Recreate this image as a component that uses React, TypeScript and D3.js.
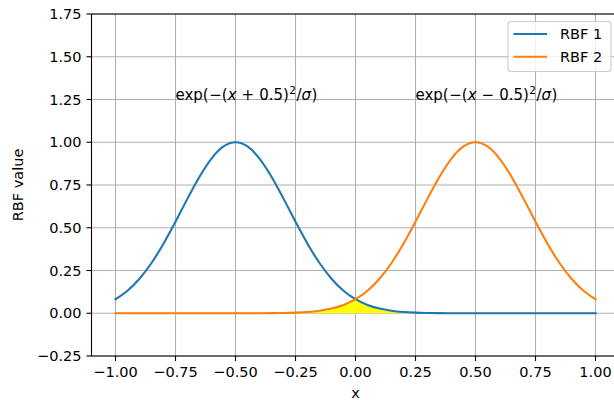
import * as d3 from 'd3';

// x samples and the two RBF curves
const xs = [
  -1.0, -0.95, -0.9, -0.85, -0.8, -0.75, -0.7, -0.65, -0.6, -0.55, -0.5,
  -0.45, -0.4, -0.35, -0.3, -0.25, -0.2, -0.15, -0.1, -0.05, 0.0,
  0.05, 0.1, 0.15, 0.2, 0.25, 0.3, 0.35, 0.4, 0.45, 0.5,
  0.55, 0.6, 0.65, 0.7, 0.75, 0.8, 0.85, 0.9, 0.95, 1.0,
];
const rbf1 = [
  0.0821, 0.132, 0.2019, 0.2938, 0.4066, 0.5353, 0.6703, 0.7985, 0.9048, 0.9753, 1.0,
  0.9753, 0.9048, 0.7985, 0.6703, 0.5353, 0.4066, 0.2938, 0.2019, 0.132, 0.0821,
  0.0486, 0.0273, 0.0146, 0.0074, 0.0036, 0.0017, 0.0007, 0.0003, 0.0001, 0.0,
  0.0, 0.0, 0.0, 0.0, 0.0, 0.0, 0.0, 0.0, 0.0, 0.0,
];
const rbf2 = [
  0.0, 0.0, 0.0, 0.0, 0.0, 0.0, 0.0, 0.0, 0.0, 0.0, 0.0,
  0.0001, 0.0003, 0.0007, 0.0017, 0.0036, 0.0074, 0.0146, 0.0273, 0.0486, 0.0821,
  0.132, 0.2019, 0.2938, 0.4066, 0.5353, 0.6703, 0.7985, 0.9048, 0.9753, 1.0,
  0.9753, 0.9048, 0.7985, 0.6703, 0.5353, 0.4066, 0.2938, 0.2019, 0.132, 0.0821,
];
const seriesNames = ['RBF 1', 'RBF 2'];
const seriesColors = ['#1f77b4', '#ff7f0e'];
const xTicks = [-1.0, -0.75, -0.5, -0.25, 0.0, 0.25, 0.5, 0.75, 1.0];
const yTicks = [-0.25, 0.0, 0.25, 0.5, 0.75, 1.0, 1.25, 1.5, 1.75];
const annotations = [
  { x: -0.75, y: 1.25, sign: '+' },
  { x: 0.25, y: 1.25, sign: '−' },
];

const W = 614;
const H = 400;
const PLOT = { left: 91.5, right: 619.5, top: 14, bottom: 356 };
const FONT = "'DejaVu Sans', sans-serif";
const FS = 14.5;
const GRID = '#b0b0b0';

const fmt = (v: number) => {
  const s = Math.abs(v).toFixed(2);
  return v < 0 ? `\u2212${s}` : s;
};

export default function App() {
  const x = d3.scaleLinear().domain([-1.1, 1.1]).range([PLOT.left, PLOT.right]);
  const y = d3.scaleLinear().domain([-0.25, 1.75]).range([PLOT.bottom, PLOT.top]);

  const overlap = xs.map((_, i) => Math.min(rbf1[i], rbf2[i]));

  const line = d3
    .line<number>()
    .x((_, i) => x(xs[i]))
    .y(d => y(d))
    .curve(d3.curveMonotoneX);

  const area = d3
    .area<number>()
    .x((_, i) => x(xs[i]))
    .y0(y(0))
    .y1(d => y(d))
    .curve(d3.curveMonotoneX);

  const tick = 5;

  return (
    <div style={{ position: 'absolute', left: 0, top: 0, width: W, height: H, overflow: 'hidden' }}>
      <svg width={W} height={H} style={{ display: 'block', background: '#fff' }} fontFamily={FONT}>
        {/* grid */}
        <g stroke={GRID} strokeWidth={1.1}>
          {xTicks.map(t => (
            <line key={`gx${t}`} x1={x(t)} x2={x(t)} y1={PLOT.top} y2={PLOT.bottom} />
          ))}
          {yTicks.map(t => (
            <line key={`gy${t}`} x1={PLOT.left} x2={PLOT.right} y1={y(t)} y2={y(t)} />
          ))}
        </g>

        {/* overlap fill */}
        <path d={area(overlap) ?? ''} fill="#ffff00" stroke="none" />

        {/* curves */}
        {[rbf1, rbf2].map((s, i) => (
          <path
            key={seriesNames[i]}
            d={line(s) ?? ''}
            fill="none"
            stroke={seriesColors[i]}
            strokeWidth={2.1}
            strokeLinecap="square"
          />
        ))}

        {/* annotations (mathtext look) */}
        {annotations.map(a => (
          <text key={a.sign} x={x(a.x)} y={y(a.y)} fontSize={15} fill="#000">
            <tspan>exp(</tspan>
            <tspan dx={0.5}>−</tspan>
            <tspan>(</tspan>
            <tspan fontStyle="italic">x</tspan>
            <tspan dx={5}>{a.sign}</tspan>
            <tspan dx={5}>0.5)</tspan>
            <tspan dy={-6} dx={0.5} fontSize={10.5}>2</tspan>
            <tspan dy={6} dx={0.5}>/</tspan>
            <tspan fontStyle="italic">σ</tspan>
            <tspan dx={0.5}>)</tspan>
          </text>
        ))}

        {/* spines (right one falls outside the picture) */}
        <g stroke="#000" strokeWidth={1.1} fill="none">
          <line x1={PLOT.left} x2={PLOT.left} y1={PLOT.top} y2={PLOT.bottom} />
          <line x1={PLOT.left} x2={PLOT.right} y1={PLOT.top} y2={PLOT.top} />
          <line x1={PLOT.left} x2={PLOT.right} y1={PLOT.bottom} y2={PLOT.bottom} />
        </g>

        {/* x axis */}
        <g>
          {xTicks.map(t => (
            <g key={`xt${t}`} transform={`translate(${x(t)},${PLOT.bottom})`}>
              <line y2={tick} stroke="#000" strokeWidth={1.1} />
              <text y={tick + 5} dy="0.76em" textAnchor="middle" fontSize={FS} fill="#000">
                {fmt(t)}
              </text>
            </g>
          ))}
          <text x={x(0)} y={398} textAnchor="middle" fontSize={FS} fill="#000">
            x
          </text>
        </g>

        {/* y axis */}
        <g>
          {yTicks.map(t => (
            <g key={`yt${t}`} transform={`translate(${PLOT.left},${y(t)})`}>
              <line x2={-tick} stroke="#000" strokeWidth={1.1} />
              <text x={-tick - 5} dy="0.36em" textAnchor="end" fontSize={FS} fill="#000">
                {fmt(t)}
              </text>
            </g>
          ))}
          <text
            transform={`translate(23,${(PLOT.top + PLOT.bottom) / 2}) rotate(-90)`}
            textAnchor="middle"
            fontSize={FS}
            fill="#000"
          >
            RBF value
          </text>
        </g>

        {/* legend */}
        <g transform="translate(508,21.5)">
          <rect
            width={103}
            height={50}
            rx={3}
            fill="#fff"
            fillOpacity={0.8}
            stroke="#cccccc"
            strokeWidth={1.1}
          />
          {seriesNames.map((n, i) => (
            <g key={n} transform={`translate(0,${12.5 + i * 22.7})`}>
              <line x1={5.5} x2={39} stroke={seriesColors[i]} strokeWidth={2.1} />
              <text x={52} dy="0.36em" fontSize={FS} fill="#000">
                {n}
              </text>
            </g>
          ))}
        </g>
      </svg>
    </div>
  );
}
